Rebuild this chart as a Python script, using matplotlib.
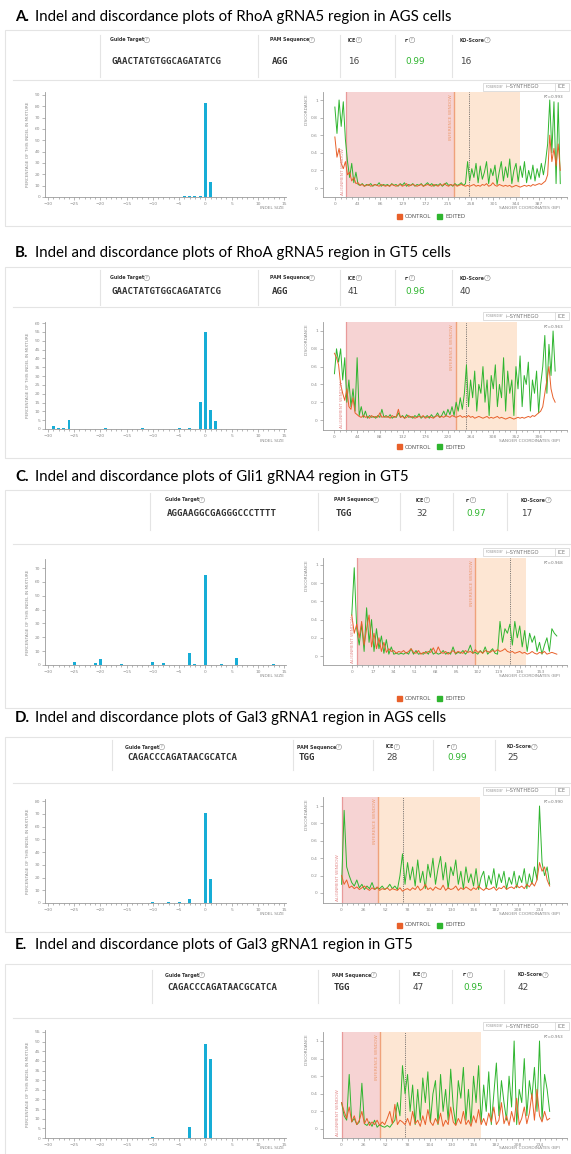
import numpy as np
import matplotlib.pyplot as plt
from matplotlib.lines import Line2D
from matplotlib.patches import Rectangle

plt.rcParams['font.family'] = ['DejaVu Sans']

W, H = 571, 1154

# ---- data ----
titles = [
    ("A.", "Indel and discordance plots of RhoA gRNA5 region in AGS cells"),
    ("B.", "Indel and discordance plots of RhoA gRNA5 region in GT5 cells"),
    ("C.", "Indel and discordance plots of Gli1 gRNA4 region in GT5"),
    ("D.", "Indel and discordance plots of Gal3 gRNA1 region in AGS cells"),
    ("E.", "Indel and discordance plots of Gal3 gRNA1 region in GT5"),
]
guides = ["GAACTATGTGGCAGATATCG", "GAACTATGTGGCAGATATCG", "AGGAAGGCGAGGGCCCTTTT",
          "CAGACCCAGATAACGCATCA", "CAGACCCAGATAACGCATCA"]
pams = ["AGG", "AGG", "TGG", "TGG", "TGG"]
ice = ["16", "41", "32", "28", "47"]
r2 = ["0.99", "0.96", "0.97", "0.99", "0.95"]
ko = ["16", "40", "17", "25", "42"]
r2_fit = ["R²=0.993", "R²=0.963", "R²=0.968", "R²=0.990", "R²=0.953"]

# indel size distributions (% of indel in mixture)
a_size = [-4, -3, -2, -1, 0, 1]
a_pct = [1, 0.5, 0.5, 0.5, 83, 13]
b_size = [-29, -28, -27, -26, -19, -12, -5, -3, -1, 0, 1, 2]
b_pct = [1.5, 0.6, 0.6, 5, 0.5, 0.3, 0.3, 0.6, 15.5, 55, 10.5, 4.5]
c_size = [-25, -21, -20, -16, -10, -8, -3, -2, 0, 3, 6, 13]
c_pct = [2.5, 1.5, 4.5, 1, 2.5, 1.5, 8.5, 0.5, 65, 0.5, 5, 1]
d_size = [-10, -7, -5, -3, 0, 1]
d_pct = [0.5, 0.5, 1, 3, 71, 19]
e_size = [-10, -3, 0, 1]
e_pct = [0.5, 5.5, 48.5, 41]

# discordance traces (sampled every *_step bp)
a_step = 4
a_edit = [0.92, 0.62, 1.0, 0.7, 0.98, 0.55,
          0.30, 0.12, 0.28, 0.06, 0.18, 0.04,
          0.03, 0.05, 0.02, 0.04, 0.03, 0.05, 0.02, 0.04, 0.03, 0.06, 0.02, 0.04, 0.03,
          0.04, 0.02, 0.05, 0.03, 0.04, 0.02, 0.05, 0.03, 0.06, 0.02, 0.04, 0.03, 0.05, 0.02,
          0.04, 0.03, 0.05, 0.02, 0.04, 0.06, 0.03, 0.05, 0.02, 0.04, 0.03, 0.05, 0.02, 0.04,
          0.06, 0.03, 0.04, 0.02, 0.05, 0.03, 0.04, 0.06, 0.03, 0.05,
          0.30, 0.08, 0.22, 0.12, 0.28, 0.06, 0.25, 0.10, 0.18, 0.30, 0.05, 0.22, 0.14, 0.26,
          0.04, 0.18, 0.30, 0.08, 0.24, 0.12, 0.33, 0.05, 0.20, 0.28, 0.07, 0.25, 0.12, 0.30,
          0.06, 0.20, 0.10, 0.26, 0.08, 0.22, 0.12, 0.28, 0.15, 0.30,
          0.5, 1.0, 0.4, 0.98, 0.05, 0.97, 0.05]
a_ctrl = [0.58, 0.35, 0.45, 0.28, 0.22, 0.30,
          0.15, 0.18, 0.08, 0.12, 0.05, 0.06,
          0.03, 0.04, 0.02, 0.03, 0.04, 0.02, 0.03, 0.04, 0.03, 0.02, 0.04, 0.03, 0.02,
          0.03, 0.02, 0.04, 0.03, 0.02, 0.03, 0.04, 0.02, 0.03, 0.05, 0.02, 0.03, 0.04, 0.03,
          0.02, 0.03, 0.04, 0.02, 0.03, 0.04, 0.03, 0.02, 0.04, 0.03, 0.02, 0.04, 0.03, 0.05,
          0.03, 0.02, 0.04, 0.03, 0.04, 0.02, 0.03, 0.04, 0.03, 0.02,
          0.03, 0.02, 0.03, 0.04, 0.02, 0.03, 0.02, 0.04, 0.03, 0.05, 0.02, 0.03, 0.06, 0.03,
          0.02, 0.04, 0.03, 0.02, 0.03, 0.02, 0.03, 0.01, 0.02, 0.03, 0.02, 0.01, 0.02, 0.03,
          0.02, 0.03, 0.02, 0.04, 0.03, 0.04, 0.05, 0.04, 0.06, 0.08,
          0.15, 0.60, 0.30, 0.45, 0.25, 0.50, 0.20]

b_step = 4
b_edit = [0.52, 0.80, 0.65, 0.80, 0.45, 0.70,
          0.20, 0.45, 0.15, 0.35, 0.10, 0.70,
          0.05, 0.15, 0.03, 0.10, 0.02, 0.05, 0.03, 0.04, 0.02, 0.05, 0.03, 0.12, 0.03,
          0.05, 0.03, 0.06, 0.02, 0.04, 0.03, 0.08, 0.03, 0.05, 0.02, 0.06, 0.03, 0.04, 0.02,
          0.05, 0.03, 0.07, 0.02, 0.04, 0.03, 0.05, 0.02, 0.06, 0.03, 0.04, 0.08, 0.03, 0.05,
          0.10, 0.04, 0.12, 0.06, 0.15, 0.05, 0.20, 0.10, 0.25, 0.12,
          0.30, 0.62, 0.15, 0.45, 0.25, 0.55, 0.10, 0.40, 0.30, 0.60, 0.20, 0.45, 0.05, 0.50,
          0.35, 0.62, 0.15, 0.40, 0.25, 0.70, 0.10, 0.55, 0.30, 0.45, 0.05, 0.60, 0.35, 0.72,
          0.15, 0.50, 0.40, 0.65, 0.10, 0.45, 0.30, 0.55, 0.08, 0.40,
          0.60, 0.95, 0.30, 0.85, 0.50, 1.00, 0.55]
b_ctrl = [0.75, 0.70, 0.62, 0.40, 0.30, 0.22,
          0.35, 0.15, 0.12, 0.25, 0.08, 0.06,
          0.04, 0.03, 0.05, 0.03, 0.04, 0.02, 0.05, 0.03, 0.04, 0.03, 0.08, 0.03, 0.04,
          0.03, 0.04, 0.02, 0.05, 0.03, 0.04, 0.12, 0.03, 0.04, 0.02, 0.03, 0.05, 0.03, 0.04,
          0.02, 0.03, 0.04, 0.03, 0.05, 0.02, 0.03, 0.04, 0.03, 0.02, 0.04, 0.05, 0.03, 0.04,
          0.03, 0.05, 0.04, 0.03, 0.05, 0.04, 0.03, 0.04, 0.05, 0.03,
          0.04, 0.03, 0.05, 0.03, 0.04, 0.02, 0.03, 0.04, 0.03, 0.02, 0.03, 0.04, 0.02, 0.03,
          0.02, 0.03, 0.04, 0.02, 0.03, 0.02, 0.01, 0.02, 0.03, 0.02, 0.01, 0.02, 0.03, 0.02,
          0.03, 0.02, 0.03, 0.04, 0.03, 0.05, 0.04, 0.06, 0.08, 0.10,
          0.15, 0.30, 0.45, 0.60, 0.35, 0.25, 0.20]

c_step = 2
c_edit = [0.45, 0.97, 0.30, 0.12, 0.35, 0.05, 0.53, 0.15, 0.40, 0.05,
          0.30, 0.08, 0.22, 0.03, 0.18, 0.02, 0.10, 0.02, 0.03, 0.02,
          0.03, 0.02, 0.04, 0.02, 0.08, 0.02, 0.06, 0.02, 0.03, 0.02,
          0.05, 0.02, 0.08, 0.02, 0.04, 0.02, 0.03, 0.06, 0.02, 0.04,
          0.02, 0.10, 0.02, 0.04, 0.03, 0.06, 0.02, 0.05, 0.12, 0.03,
          0.04, 0.02, 0.06, 0.03, 0.10, 0.02, 0.05, 0.08, 0.03, 0.02,
          0.38, 0.15, 0.30, 0.25, 0.35, 0.12, 0.38, 0.20, 0.33, 0.10,
          0.28, 0.05, 0.25, 0.15, 0.22, 0.05, 0.15, 0.02, 0.12, 0.20,
          0.05, 0.30, 0.25, 0.22]
c_ctrl = [0.45, 0.25, 0.35, 0.20, 0.38, 0.12, 0.30, 0.45, 0.10, 0.25,
          0.08, 0.20, 0.05, 0.15, 0.04, 0.08, 0.05, 0.06, 0.03, 0.05,
          0.04, 0.06, 0.03, 0.05, 0.08, 0.04, 0.03, 0.06, 0.02, 0.04,
          0.03, 0.05, 0.04, 0.09, 0.03, 0.10, 0.04, 0.03, 0.05, 0.02,
          0.04, 0.06, 0.03, 0.05, 0.04, 0.03, 0.06, 0.04, 0.05, 0.03,
          0.07, 0.04, 0.05, 0.03, 0.06, 0.05, 0.04, 0.06, 0.05, 0.07,
          0.05, 0.06, 0.08, 0.05, 0.04, 0.05, 0.03, 0.04, 0.05, 0.03,
          0.04, 0.02, 0.03, 0.05, 0.03, 0.02, 0.04, 0.03, 0.05, 0.02,
          0.03, 0.04, 0.03, 0.02]

d_step = 3
d_edit = [0.10, 0.95, 0.30, 0.20, 0.12, 0.08, 0.15, 0.06, 0.10, 0.04,
          0.08, 0.05, 0.12, 0.04, 0.06, 0.05, 0.08, 0.04, 0.06, 0.10,
          0.05, 0.08, 0.04, 0.20, 0.45, 0.10,
          0.35, 0.15, 0.30, 0.08, 0.38, 0.12, 0.25, 0.05, 0.33, 0.18,
          0.40, 0.10, 0.28, 0.42, 0.15, 0.35, 0.05, 0.30, 0.20, 0.38,
          0.10, 0.25, 0.05, 0.30, 0.12, 0.22, 0.08, 0.28, 0.04, 0.18,
          0.25, 0.05, 0.20, 0.10, 0.28, 0.06, 0.22, 0.12, 0.25, 0.05, 0.18,
          0.10, 0.25, 0.06, 0.20, 0.12, 0.28, 0.05, 0.22, 0.10, 0.30,
          0.15, 1.00, 0.35, 0.20, 0.30, 0.10]
d_ctrl = [0.20, 0.10, 0.15, 0.06, 0.08, 0.05, 0.07, 0.04, 0.06, 0.08,
          0.05, 0.03, 0.06, 0.04, 0.07, 0.03, 0.05, 0.04, 0.06, 0.03,
          0.05, 0.04, 0.03, 0.06, 0.02, 0.04,
          0.05, 0.03, 0.06, 0.04, 0.08, 0.03, 0.05, 0.10, 0.04, 0.06,
          0.03, 0.07, 0.05, 0.04, 0.09, 0.03, 0.06, 0.04, 0.05, 0.08,
          0.03, 0.06, 0.04, 0.07, 0.05, 0.03, 0.06, 0.04, 0.08, 0.05,
          0.03, 0.06, 0.04, 0.05, 0.07, 0.03, 0.06, 0.05, 0.08, 0.04, 0.06,
          0.07, 0.05, 0.09, 0.06, 0.08, 0.05, 0.10, 0.07, 0.12, 0.08,
          0.15, 0.35, 0.25, 0.30, 0.15, 0.08]

e_step = 3
e_edit = [0.30, 0.15, 0.10, 0.62, 0.08, 0.12, 0.05, 0.08, 0.52, 0.06,
          0.04, 0.08, 0.03, 0.10, 0.02, 0.05,
          0.03, 0.02, 0.04, 0.02, 0.06, 0.10, 0.30, 0.15, 0.72,
          0.40, 0.62, 0.20, 0.50, 0.05, 0.45, 0.10, 0.58, 0.30, 0.65,
          0.08, 0.40, 0.55, 0.05, 0.62, 0.20, 0.45, 0.10, 0.68, 0.25,
          0.05, 0.55, 0.35, 0.70, 0.10, 0.45, 0.05, 0.60, 0.30, 0.72,
          0.08, 0.50, 0.20, 0.65, 0.05, 0.40, 0.75, 0.15, 0.55, 0.30,
          0.10, 0.60, 0.25, 1.00, 0.05, 0.45, 0.30, 0.80, 0.15, 0.55,
          0.35, 0.70, 0.20, 1.00, 0.10, 0.62, 0.45, 0.20]
e_ctrl = [0.30, 0.20, 0.12, 0.25, 0.08, 0.15, 0.05, 0.10, 0.20, 0.06,
          0.12, 0.04, 0.08, 0.05, 0.10, 0.04,
          0.08, 0.05, 0.12, 0.20, 0.06, 0.28, 0.05, 0.10, 0.08,
          0.05, 0.12, 0.04, 0.20, 0.06, 0.10, 0.03, 0.15, 0.05, 0.22,
          0.08, 0.04, 0.12, 0.06, 0.18, 0.03, 0.10, 0.05, 0.25, 0.08,
          0.04, 0.12, 0.06, 0.20, 0.05, 0.10, 0.03, 0.15, 0.07, 0.22,
          0.05, 0.12, 0.04, 0.18, 0.08, 0.25, 0.05, 0.10, 0.30, 0.06,
          0.15, 0.04, 0.20, 0.08, 0.35, 0.05, 0.12, 0.25, 0.06, 0.18,
          0.40, 0.10, 0.45, 0.15, 0.08, 0.20, 0.10, 0.12]

# windows: alignment start, inference start, cut site, inference end (bp)
windows = [(22, 227, 254, 351), (22, 235, 255, 355), (4, 100, 128, 141),
           (0, 43, 73, 164), (0, 46, 75, 165)]
disc_ticks = [np.arange(0, 388, 43), np.arange(0, 397, 44), np.arange(0, 154, 17),
              np.arange(0, 235, 26), np.arange(0, 235, 26)]

bars = [(a_size, a_pct), (b_size, b_pct), (c_size, c_pct), (d_size, d_pct), (e_size, e_pct)]
traces = [(a_step, a_ctrl, a_edit), (b_step, b_ctrl, b_edit), (c_step, c_ctrl, c_edit),
          (d_step, d_ctrl, d_edit), (e_step, e_ctrl, e_edit)]
bar_ytop = [92.6, 60.6, 76.5, 81.6, 56]
bar_yticks = [range(0, 91, 10), range(0, 61, 5), range(0, 71, 10), range(0, 81, 10), range(0, 56, 5)]

# ---- layout in pixels ----
layout = [
    dict(ty=17, box=(5, 30, 574, 226), lab=40, val=61, vs=(35, 77), hs=80,
         cols=[110, 270, 348, 405, 460], seps=[100, 258, 340, 395, 452],
         bar=(92, 197), disc=(92, 197), x0=335, sc=0.5323, d0=188, d1=100,
         sanger=208, leg=216, brand=83),
    dict(ty=253, box=(5, 267, 574, 458), lab=278, val=291, vs=(270, 305), hs=307,
         cols=[110, 270, 348, 405, 460], seps=[100, 258, 340, 395, 452],
         bar=(322, 429), disc=(322, 430), x0=335, sc=0.5404, d0=420, d1=331,
         sanger=441, leg=447, brand=312),
    dict(ty=477, box=(5, 490, 574, 708), lab=500, val=513, vs=(493, 530), hs=544,
         cols=[165, 334, 416, 466, 521], seps=[150, 318, 400, 453, 507],
         bar=(559, 665), disc=(558, 665), x0=353, sc=1.2876, d0=656, d1=565,
         sanger=676, leg=698, brand=548),
    dict(ty=718, box=(5, 737, 574, 932), lab=747, val=758, vs=(740, 770), hs=783,
         cols=[125, 297, 386, 447, 507], seps=[112, 293, 373, 433, 495],
         bar=(799, 903), disc=(797, 903), x0=343, sc=0.91, d0=893, d1=806,
         sanger=914, leg=925, brand=787),
    # legend of the last panel falls below the bottom edge of the picture
    dict(ty=945, box=(5, 964, 574, 1160), lab=975, val=987, vs=(970, 1003), hs=1018,
         cols=[165, 332, 413, 463, 518], seps=[152, 318, 399, 452, 504],
         bar=(1030, 1138), disc=(1032, 1138), x0=343, sc=0.9103, d0=1129, d1=1041,
         sanger=1148, leg=None, brand=1022),
]

BAR_C = '#17ADD6'
GREEN = '#2FB52F'
ORANGE = '#E8602A'
PINK = '#F6D3D3'
PEACH = '#FDE6D3'
GREY = '#8C8C8C'
LINE = '#E4E4E4'

fig = plt.figure(figsize=(W / 100, H / 100), dpi=100)
renderer = fig.canvas.get_renderer()


def ftext(x, y, s, **kw):
    return fig.text(x / W, 1 - y / H, s, **kw)


def fline(x0, y0, x1, y1, **kw):
    fig.add_artist(Line2D([x0 / W, x1 / W], [1 - y0 / H, 1 - y1 / H],
                          transform=fig.transFigure, **kw))


def add_ax(l, t, r, b):
    return fig.add_axes([l / W, 1 - b / H, (r - l) / W, (b - t) / H])


def style(ax):
    for s in ['top', 'right']:
        ax.spines[s].set_visible(False)
    for s in ['left', 'bottom']:
        ax.spines[s].set_color('#9A9A9A')
        ax.spines[s].set_linewidth(0.6)
    ax.tick_params(which='both', colors='#9A9A9A', labelcolor=GREY, labelsize=3.2,
                   width=0.5, pad=1.5)
    ax.tick_params(which='major', length=2.2)
    ax.tick_params(which='minor', length=1.5)
    ax.set_facecolor('none')


def qmark(t, color='#666'):
    # small circled question mark after a header label
    bb = t.get_window_extent(renderer)
    x = bb.x1 / fig.dpi / (W / 100) + 2.5 / W
    y = (bb.y0 + bb.y1) / 2 / fig.dpi / (H / 100)
    fig.text(x, y, '?', fontsize=2.2, color=color, ha='center', va='center',
             bbox=dict(boxstyle='circle,pad=0.25', fc='white', ec=color, lw=0.3))


for i, L in enumerate(layout):
    # title
    ftext(15, L['ty'], titles[i][0], fontsize=10.8, fontweight='bold',
          family='Lato', va='center')
    ftext(35, L['ty'], titles[i][1], fontsize=10.8, family='Lato', va='center')

    # panel frame
    l, tp, r, b = L['box']
    fig.add_artist(Rectangle((l / W, 1 - b / H), (r - l) / W, (b - tp) / H,
                             transform=fig.transFigure, fill=False, ec=LINE, lw=0.8))
    fline(l + 8, L['hs'], r, L['hs'], color=LINE, lw=0.8)
    for sx in L['seps']:
        fline(sx, L['vs'][0], sx, L['vs'][1], color=LINE, lw=0.8)

    # header
    labels = ['Guide Target', 'PAM Sequence', 'ICE', 'r²', 'KO-Score']
    values = [guides[i], pams[i], ice[i], r2[i], ko[i]]
    for j, (lab, v) in enumerate(zip(labels, values)):
        cx = L['cols'][j]
        lt = ftext(cx, L['lab'], lab, fontsize=3.4, fontweight='bold', color='#333',
                   va='center')
        qmark(lt)
        if j < 2:
            ftext(cx + 2, L['val'], v, fontsize=6.6, fontweight='bold', color='#333',
                  family='DejaVu Sans Mono', va='center')
        else:
            ftext(cx, L['val'], v, fontsize=6.4, color=GREEN if j == 3 else '#444',
                  va='center')

    # indel bar chart
    bt, bb_ = L['bar']
    ax = add_ax(45.4, bt, 285.6, bb_)
    xs, ys = bars[i]
    ax.bar(xs, ys, width=0.55, color=BAR_C)
    ax.set_xlim(-30.5, 15.3)
    ax.set_ylim(0, bar_ytop[i])
    ax.set_xticks(range(-30, 16, 5))
    ax.set_xticks(range(-30, 16), minor=True)
    ax.set_yticks(list(bar_yticks[i]))
    style(ax)
    ax.set_ylabel('PERCENTAGE OF THIS INDEL IN MIXTURE', fontsize=3.1, color=GREY,
                  labelpad=3)
    ftext(284, L['sanger'], 'INDEL SIZE', fontsize=3.2, color=GREY, ha='right',
          va='center')

    # discordance plot
    dt, db = L['disc']
    dl, dr = 323, 567
    ax = add_ax(dl, dt, dr, db)
    ppu = L['d0'] - L['d1']
    ax.set_xlim((dl - L['x0']) / L['sc'], (dr - L['x0']) / L['sc'])
    ax.set_ylim((L['d0'] - db) / ppu, (L['d0'] - dt) / ppu)
    aw, iw, cut, ie = windows[i]
    ax.axvspan(aw, iw, color=PINK, lw=0)
    ax.axvspan(iw, ie, color=PEACH, lw=0)
    ax.axvline(aw, color='#E89A9A', lw=0.9)
    ax.axvline(iw, color='#EFA27A', lw=1.0)
    ax.axvline(cut, color='#555555', lw=0.6, ls=(0, (1, 1.2)))
    step, ctrl, edit = traces[i]
    ax.plot(np.arange(len(edit)) * step, edit, color=GREEN, lw=0.7)
    ax.plot(np.arange(len(ctrl)) * step, ctrl, color=ORANGE, lw=0.7)
    ax.set_xticks(disc_ticks[i])
    tk = disc_ticks[i]
    ax.set_xticks(np.arange(tk[0], tk[-1] + tk[1] * 1.5, tk[1] / 4), minor=True)
    ax.set_yticks([0, 0.2, 0.4, 0.6, 0.8, 1])
    ax.set_yticklabels(['0', '0.2', '0.4', '0.6', '0.8', '1'])
    style(ax)
    ylo, yhi = ax.get_ylim()
    ax.text(aw - 1.5 / L['sc'], ylo + 0.02, 'ALIGNMENT WINDOW', rotation=90, fontsize=3.2,
            color='#E38A8A', ha='right', va='bottom')
    ax.text(iw - 1.5 / L['sc'], yhi - 0.02, 'INFERENCE WINDOW', rotation=90, fontsize=3.2,
            color='#EC9A6E', ha='right', va='top')
    ax.text(0.985, 0.97, r2_fit[i], transform=ax.transAxes, fontsize=3.0, color='#777',
            ha='right', va='top')
    ftext(307, dt + 1, 'DISCORDANCE', rotation=90, fontsize=3.2, color=GREY,
          ha='center', va='top')
    ftext(560, L['sanger'], 'SANGER COORDINATES (BP)', fontsize=3.2, color=GREY,
          ha='right', va='center')

    # legend
    ly = L['leg']
    if ly is not None:
        fig.add_artist(Rectangle((397 / W, 1 - (ly + 2.5) / H), 5 / W, 5 / H,
                                 transform=fig.transFigure, color=ORANGE))
        ftext(405, ly, 'CONTROL', fontsize=4.0, color='#555', va='center')
        fig.add_artist(Rectangle((437 / W, 1 - (ly + 2.5) / H), 5 / W, 5 / H,
                                 transform=fig.transFigure, color=GREEN))
        ftext(445, ly, 'EDITED', fontsize=4.0, color='#555', va='center')

    # powered-by badge
    by = L['brand']
    fig.add_artist(Rectangle((483 / W, 1 - (by + 8) / H), 86 / W, 8 / H,
                             transform=fig.transFigure, fill=False, ec='#D8D8D8', lw=0.6))
    fline(555, by, 555, by + 8, color='#D8D8D8', lw=0.6)
    ftext(486, by + 4, 'POWERED BY', fontsize=1.8, color='#888', va='center')
    ftext(506, by + 4, '⊢SYNTHEGO', fontsize=3.8, color='#777', va='center')
    ftext(562, by + 4, 'ICE', fontsize=3.6, color='#777', va='center', ha='center')

fig.savefig('out.png', dpi=100)
